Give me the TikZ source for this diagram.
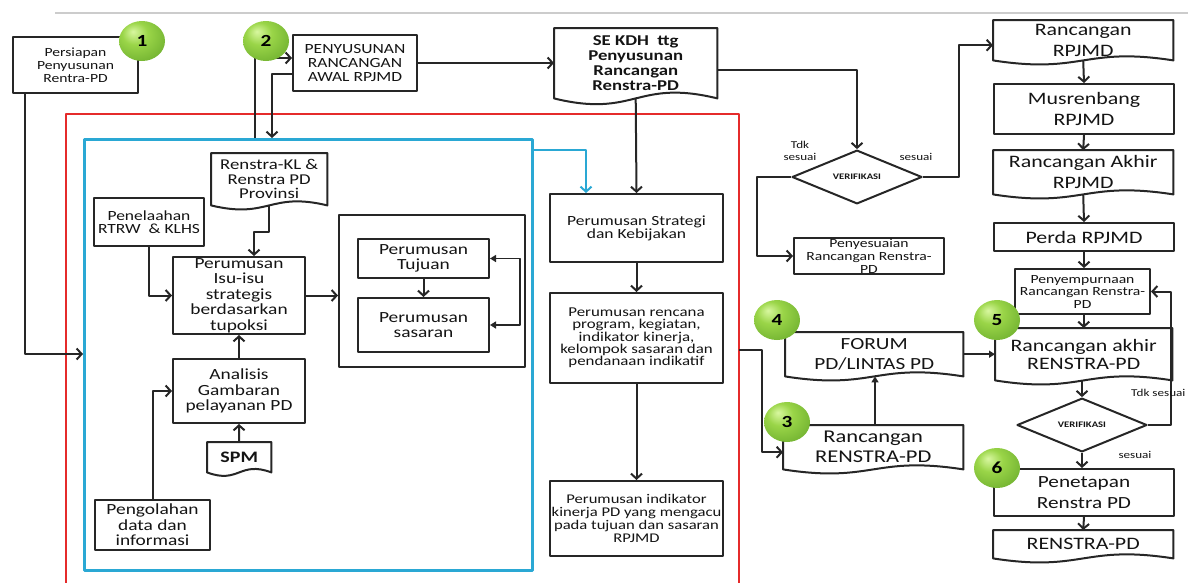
\documentclass[tikz,border=0pt]{standalone}
\usepackage{fontspec}
\setmainfont{Carlito}[FakeStretch=1.25]
\usetikzlibrary{arrows.meta,calc,shapes.geometric}
\definecolor{txt}{HTML}{141414}
\definecolor{redline}{HTML}{E52B2B}
\definecolor{blueline}{HTML}{2AA8D4}
\definecolor{lightg}{HTML}{D8F7A0}
\definecolor{midg}{HTML}{9AD548}
\definecolor{darkg}{HTML}{66A82A}
\pgfdeclareradialshading[lightg,midg,darkg]{greenball}{\pgfpoint{-10bp}{12bp}}{color(0bp)=(lightg); color(14bp)=(midg); color(40bp)=(darkg); color(62bp)=(darkg)}
\newcommand{\fs}[2]{\fontsize{#1}{#2}\selectfont}
\newcommand{\docwave}[2]{\draw[boxline] (#1.south west) -- (#1.north west) -- (#1.north east) -- (#1.south east) .. controls ($(#1.south)+(0,-#2)$) and ($(#1.south)+(0,#2)$) .. (#1.south west) -- cycle;}
\tikzset{
  boxline/.style={draw=black!85, line width=2pt},
  box/.style={boxline, fill=white, anchor=north west, inner sep=0pt, align=center, text=txt},
  doc/.style={anchor=north west, inner sep=0pt, align=center, text=txt},
  arr/.style={draw=black!85, line width=2pt, -{Straight Barb[length=5pt,width=11pt]}},
  tri/.style={draw=black!85, line width=1.8pt, -{Triangle[length=6pt,width=7pt]}},
  tritwo/.style={draw=black!85, line width=1.8pt, {Triangle[length=6pt,width=7pt]}-{Triangle[length=6pt,width=7pt]}},
  bluearr/.style={draw=blueline, line width=2pt, -{Straight Barb[length=5pt,width=11pt]}},
  num/.style={ellipse, shading=greenball, minimum width=46pt, minimum height=40pt, inner sep=0pt, font=\fs{17}{17}\bfseries, text=black},
  verif/.style={diamond, boxline, fill=white, minimum width=130pt, minimum height=48pt, inner sep=0pt, font=\fs{8.5}{9}\bfseries, text=txt},
  lbl/.style={inner sep=0pt, align=center, text=txt, font=\fs{10.5}{12}}
}
\begin{document}
\begin{tikzpicture}[x=1pt,y=-1pt,line join=round]
\useasboundingbox (0,0) rectangle (1188,582);
% top shadow line
\draw[black!20, line width=2.5pt] (55,13) -- (1188,13);
% red and blue frames
\draw[redline, line width=2.5pt] (66,584) -- (66,114) -- (739,114) -- (739,584);
\coordinate (redR) at (739,350);
\node[draw=blueline, line width=2.5pt, minimum width=448pt, minimum height=431pt, anchor=north west, inner sep=0pt] (blue) at (83,138) {};

% top row
\node[box, minimum width=125pt, minimum height=56pt, font=\fs{12.5}{13}] (p1) at (12,36) {Persiapan\\Penyusunan\\Rentra-PD};
\node[box, minimum width=124pt, minimum height=56pt, font=\fs{14}{14}] (p2) at (292,34) {PENYUSUNAN\\RANCANGAN\\AWAL RPJMD};
\node[doc, minimum width=163pt, minimum height=70pt, font=\fs{15}{15}\bfseries] (se) at (554,28) {SE KDH\ \ ttg\\Penyusunan\\Rancangan\\Renstra-PD};
\docwave{se}{20}

% verification 1
\node[verif] (v1) at (857,177) {VERIFIKASI};
\node[box, minimum width=150pt, minimum height=36pt, font=\fs{12.5}{13}] (penyes) at (793,237) {Penyesuaian\\Rancangan Renstra-\\PD};

% right column
\node[doc, minimum width=180pt, minimum height=40pt, font=\fs{17.5}{21}] (rr) at (993,20) {Rancangan\\RPJMD};
\docwave{rr}{14}
\node[box, minimum width=180pt, minimum height=50pt, font=\fs{17.5}{21}] (mr) at (993,83) {Musrenbang\\RPJMD};
\node[doc, minimum width=180pt, minimum height=44pt, font=\fs{17.5}{21}] (ra) at (993,150) {Rancangan Akhir\\RPJMD};
\docwave{ra}{14}
\node[box, minimum width=180pt, minimum height=28pt, font=\fs{17.5}{20}] (perda) at (993,222) {Perda RPJMD};
\node[box, minimum width=135pt, minimum height=45pt, font=\fs{12.5}{12.5}] (penyemp) at (1014,268) {Penyempurnaan\\Rancangan Renstra-\\PD};
\node[doc, minimum width=177pt, minimum height=52pt, font=\fs{17.5}{18}] (rar) at (995,328) {Rancangan akhir\\RENSTRA-PD};
\docwave{rar}{14}
\node[verif, minimum height=46pt] (v2) at (1082,425) {VERIFIKASI};
\node[box, minimum width=180pt, minimum height=47pt, font=\fs{17}{21}] (pen) at (993,468) {Penetapan\\Renstra PD};
\node[doc, minimum width=180pt, minimum height=28pt, font=\fs{17.5}{20}] (ren) at (993,530) {RENSTRA-PD};
\docwave{ren}{14}

% middle-right
\node[doc, minimum width=178pt, minimum height=44pt, font=\fs{17}{20}] (forum) at (785,332) {FORUM\\PD/LINTAS PD};
\docwave{forum}{14}
\node[doc, minimum width=180pt, minimum height=44pt, font=\fs{18}{20}] (rrenstra) at (783,425) {Rancangan\\RENSTRA-PD};
\docwave{rrenstra}{14}

% middle column
\node[box, minimum width=173pt, minimum height=68pt, font=\fs{14}{13}] (strat) at (549,193) {Perumusan Strategi\\dan Kebijakan};
\node[box, minimum width=173pt, minimum height=90pt, font=\fs{13.5}{12.3}] (renc) at (549,292) {Perumusan rencana\\program, kegiatan,\\indikator kinerja,\\kelompok sasaran dan\\pendanaan indikatif};
\node[box, minimum width=173pt, minimum height=75pt, font=\fs{13.3}{13}] (indik) at (549,480) {Perumusan indikator\\kinerja PD yang mengacu\\pada tujuan dan sasaran\\RPJMD};

% inside blue frame
\node[doc, minimum width=116pt, minimum height=52pt, font=\fs{15}{14.5}] (rkl) at (211,153) {Renstra-KL \&\\Renstra PD\\Provinsi};
\docwave{rkl}{14}
\node[box, minimum width=110pt, minimum height=48pt, font=\fs{14}{13}] (penel) at (93,197) {Penelaahan\\RTRW\ \ \& KLHS};
\node[box, minimum width=132pt, minimum height=77pt, font=\fs{15.5}{15.5}] (isu) at (172,256) {Perumusan\\Isu-isu\\strategis\\berdasarkan\\tupoksi};
\node[box, minimum width=186pt, minimum height=152pt] (outer) at (338,214) {};
\node[box, minimum width=131pt, minimum height=39pt, font=\fs{15.5}{15}] (tujuan) at (357,238) {Perumusan\\Tujuan};
\node[box, minimum width=131pt, minimum height=54pt, font=\fs{15.5}{15}] (sasaran) at (357,297) {Perumusan\\sasaran};
\node[box, minimum width=132pt, minimum height=64pt, font=\fs{15.5}{15.5}] (analisis) at (172,358) {Analisis\\Gambaran\\pelayanan PD};
\node[doc, minimum width=64pt, minimum height=30pt, font=\fs{16}{16}\bfseries] (spm) at (207,442) {SPM};
\docwave{spm}{12}
\node[box, minimum width=115pt, minimum height=50pt, font=\fs{15.5}{15.5}] (peng) at (94,499) {Pengolahan\\data dan\\informasi};

% connectors
\draw[arr] ($(p1.south west)+(13,0)$) |- ($(blue.north west)+(0,216)$);
\draw[arr] ($(blue.north west)+(172,0)$) |- ($(p2.west)+(0,-5)$);
\draw[arr] ($(p2.west)+(0,11)$) -| ($(blue.north west)+(189,0)$);
\draw[arr] (p2.east) -- (se.west |- p2.east);
\draw[arr] (se.south) -- (strat.north);
\draw[arr] ($(se.east)+(0,7)$) -| (v1.north);
\draw[bluearr] ($(blue.north east)+(0,12)$) -| ($(strat.north west)+(37,0)$);
\draw[arr] (v1.east) -- ++(36,0) |- ($(rr.west)+(0,5)$);
\draw[arr] (v1.west) -- ++(-34,0) |- (penyes.west);
\draw[arr] (rr.south) -- (mr.north);
\draw[arr] (mr.south) -- (ra.north);
\draw[arr] (ra.south) -- (perda.north);
\draw[arr] (perda.south) -- (perda.south |- penyemp.north);
\draw[arr] (rar.north |- penyemp.south) -- (rar.north);
\draw[arr] (v2.north |- rar.south) -- (v2.north);
\draw[arr] (v2.east) -- ++(23,0) |- (penyemp.east);
\draw[arr] (v2.south) -- (v2.south |- pen.north);
\draw[arr] (pen.south) -- (ren.north);
\draw[tri] (forum.east) -- (rar.west);
\draw[tri] ($(rrenstra.north west)+(92,0)$) -- ($(forum.south west)+(90,0)$);
\draw[arr] (redR) -- ++(23,0) |- ($(rrenstra.west)+(0,5)$);
\draw[arr] (strat.south) -- (renc.north);
\draw[arr] (renc.south) -- (indik.north);
\draw[arr] (rkl.south) -- ++(0,27) -| ($(isu.north)+(15,0)$);
\draw[arr] (penel.south) |- (isu.west);
\draw[arr] (isu.east) -- (outer.west |- isu.east);
\draw[arr] (tujuan.south) -- (sasaran.north);
\draw[tritwo] (tujuan.east) -- ++(30,0) |- (sasaran.east);
\draw[arr] (analisis.north) -- (isu.south);
\draw[arr] (spm.north) -- (analisis.south);
\draw[arr] (peng.north) |- (analisis.west);

% labels
\node[lbl] (tdk1) at (800,151) {Tdk\\sesuai};
\node[lbl] (ses1) at (916,157) {sesuai};
\node[lbl, anchor=west] (tdk2) at (1131,393) {Tdk sesuai};
\node[lbl] (ses2) at (1135,455) {sesuai};

% numbered balls
\node[num] (n1) at (142,41) {1};
\node[num] (n2) at (266,41) {2};
\node[num] (n3) at (787,422) {3};
\node[num] (n4) at (777,320) {4};
\node[num] (n5) at (997,320) {5};
\node[num] (n6) at (997,468) {6};
\end{tikzpicture}
\end{document}
